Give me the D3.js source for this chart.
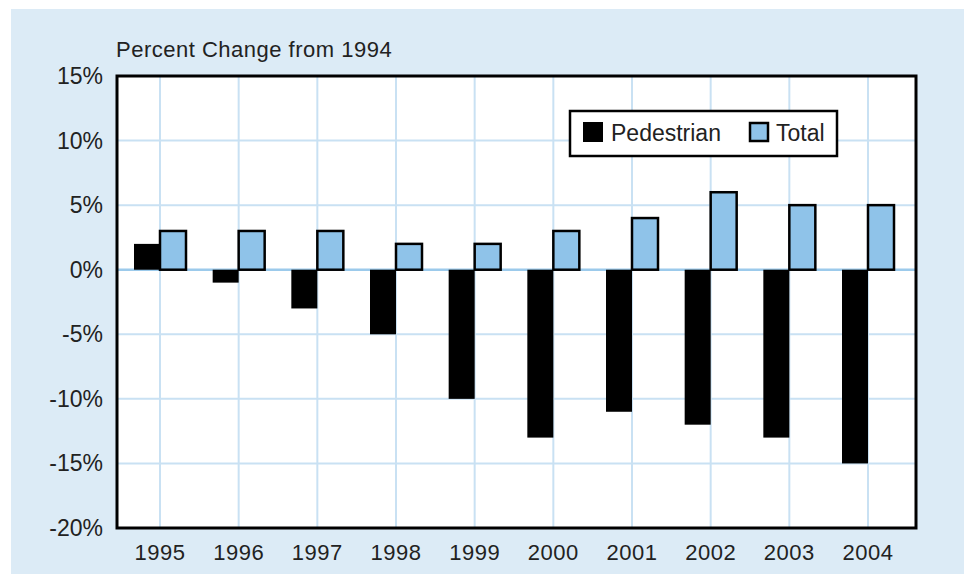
<!DOCTYPE html>
<html>
<head>
<meta charset="utf-8">
<script src="https://cdn.jsdelivr.net/npm/d3@7"></script>
<style>
  body { margin: 0; background: #fff; }
  svg text { font-family: "Liberation Sans", Arial, sans-serif; fill: #222; }
</style>
</head>
<body>
<div id="chart"></div>
<script>
// data
const years = ["1995", "1996", "1997", "1998", "1999", "2000", "2001", "2002", "2003", "2004"];
const pedestrian = [2, -1, -3, -5, -10, -13, -11, -12, -13, -15];
const total = [3, 3, 3, 2, 2, 3, 4, 6, 5, 5];
const yTicks = [15, 10, 5, 0, -5, -10, -15, -20];

const W = 965, H = 575;
const plot = { left: 117, right: 916, top: 76, bottom: 528 };

const svg = d3.select("#chart")
  .append("svg")
    .attr("width", W)
    .attr("height", H);

// light blue panel
svg.append("rect")
  .attr("x", 11).attr("y", 9)
  .attr("width", 953).attr("height", 565)
  .attr("fill", "#dcebf6");

// white plot area
svg.append("rect")
  .attr("x", plot.left).attr("y", plot.top)
  .attr("width", plot.right - plot.left).attr("height", plot.bottom - plot.top)
  .attr("fill", "#fff");

const x = d3.scalePoint()
  .domain(years)
  .range([160, 868]);

const y = d3.scaleLinear()
  .domain([-20, 15])
  .range([plot.bottom, plot.top]);

const barW = 26;

// grid lines
svg.append("g")
  .selectAll("line")
  .data(yTicks)
  .join("line")
    .attr("x1", plot.left).attr("x2", plot.right)
    .attr("y1", d => y(d)).attr("y2", d => y(d))
    .attr("stroke", d => d === 0 ? "#9ccaeb" : "#c9e1f3")
    .attr("stroke-width", d => d === 0 ? 2.5 : 2);

svg.append("g")
  .selectAll("line")
  .data(years)
  .join("line")
    .attr("x1", d => x(d)).attr("x2", d => x(d))
    .attr("y1", plot.top).attr("y2", plot.bottom)
    .attr("stroke", "#c9e1f3")
    .attr("stroke-width", 2);

// pedestrian bars
svg.append("g")
  .selectAll("rect")
  .data(years)
  .join("rect")
    .attr("x", d => x(d) - barW)
    .attr("y", (d, i) => y(Math.max(0, pedestrian[i])))
    .attr("width", barW)
    .attr("height", (d, i) => Math.abs(y(pedestrian[i]) - y(0)))
    .attr("fill", "#000");

// total bars
svg.append("g")
  .selectAll("rect")
  .data(years)
  .join("rect")
    .attr("x", d => x(d))
    .attr("y", (d, i) => y(Math.max(0, total[i])))
    .attr("width", barW)
    .attr("height", (d, i) => Math.abs(y(total[i]) - y(0)))
    .attr("fill", "#8fc3e9")
    .attr("stroke", "#000")
    .attr("stroke-width", 2.5);

// plot frame
svg.append("rect")
  .attr("x", plot.left).attr("y", plot.top)
  .attr("width", plot.right - plot.left).attr("height", plot.bottom - plot.top)
  .attr("fill", "none")
  .attr("stroke", "#000")
  .attr("stroke-width", 3);

// y axis labels
svg.append("g")
  .selectAll("text")
  .data(yTicks)
  .join("text")
    .attr("x", 103)
    .attr("y", d => y(d) + 8)
    .attr("text-anchor", "end")
    .style("font-size", "23px")
    .text(d => d + "%");

// x axis labels
svg.append("g")
  .selectAll("text")
  .data(years)
  .join("text")
    .attr("x", d => x(d))
    .attr("y", 560)
    .attr("text-anchor", "middle")
    .style("font-size", "22px")
    .style("letter-spacing", "0.5px")
    .text(d => d);

// axis title
svg.append("text")
  .attr("x", 116)
  .attr("y", 57)
  .style("font-size", "22px")
  .style("letter-spacing", "0.5px")
  .text("Percent Change from 1994");

// legend
const legend = svg.append("g");
legend.append("rect")
  .attr("x", 570).attr("y", 111)
  .attr("width", 267).attr("height", 45)
  .attr("fill", "#fff")
  .attr("stroke", "#000")
  .attr("stroke-width", 2.5);
legend.append("rect")
  .attr("x", 583).attr("y", 122)
  .attr("width", 20).attr("height", 20)
  .attr("fill", "#000");
legend.append("text")
  .attr("x", 611).attr("y", 141)
  .style("font-size", "23px")
  .text("Pedestrian");
legend.append("rect")
  .attr("x", 750).attr("y", 123)
  .attr("width", 18).attr("height", 18)
  .attr("fill", "#8fc3e9")
  .attr("stroke", "#000")
  .attr("stroke-width", 2.5);
legend.append("text")
  .attr("x", 776).attr("y", 141)
  .style("font-size", "23px")
  .text("Total");
</script>
</body>
</html>
